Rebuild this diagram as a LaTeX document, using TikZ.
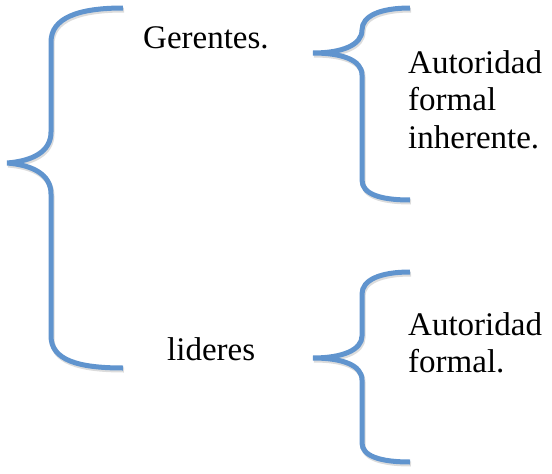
\documentclass[tikz,border=0pt]{standalone}
\usepackage{fontspec}
\setmainfont{Liberation Serif}
\usepackage{tikz}
\usetikzlibrary{positioning}
\definecolor{braceblue}{RGB}{96,148,206}
\tikzstyle{brace} = [draw=braceblue, line width=5pt,
    preaction={draw=black!30, opacity=0.45, line width=5pt,
    transform canvas={shift={(1pt,-2pt)}}}]
\tikzstyle{label} = [inner sep=0pt, align=left, font=\fontsize{33}{37.5}\selectfont]

\begin{document}
\begin{tikzpicture}[x=1pt, y=-1pt]
    \useasboundingbox (0,0) rectangle (552,474);
    % big brace
    \draw [brace] (123,8) .. controls (78,8) and (51,18) .. (51,42) -- (51,132)
        .. controls (51,152) and (32,161) .. (7,163)
        .. controls (32,165) and (51,174) .. (51,194) -- (51,336)
        .. controls (51,360) and (78,368) .. (123,368);
    % upper small brace
    \draw [brace] (410,8) .. controls (380,8) and (362,16) .. (362,30)
        .. controls (362,45) and (342,53) .. (313,53)
        .. controls (342,53) and (362,60) .. (362,75) -- (362,180)
        .. controls (362,194) and (380,200) .. (410,200);
    % lower small brace
    \draw [brace] (410,272) .. controls (380,272) and (362,280) .. (362,294) -- (362,336)
        .. controls (362,350) and (342,358) .. (313,358)
        .. controls (342,358) and (362,365) .. (362,380) -- (362,443)
        .. controls (362,456) and (380,462) .. (410,462);
    \node [label, anchor=base west] (gerentes) at (143,48) {Gerentes.};
    \node [label, anchor=base west] (lideres) at (167,360) {lideres};
    \node [label, anchor=north west] (inherente) at (408,50) {Autoridad\\formal\\inherente.};
    \node [label, anchor=north west] (formal) at (408,312) {Autoridad\\formal.};
\end{tikzpicture}
\end{document}
